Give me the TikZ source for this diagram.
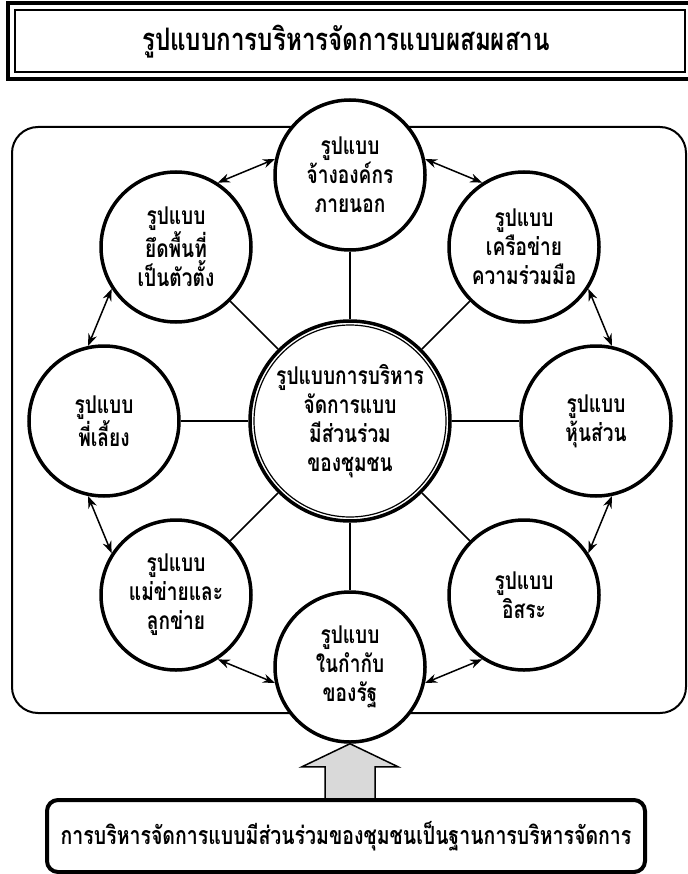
\documentclass[tikz,border=0pt]{standalone}
\usepackage{fontspec}
\setmainfont[Script=Thai, FakeStretch=0.78]{Loma}
\usetikzlibrary{arrows.meta}
\tikzset{
  model/.style={circle, draw, line width=3.5pt, fill=white, minimum size=150pt, inner sep=0pt,
    align=center, font=\bfseries\fontsize{24.5}{29}\selectfont},
  hub/.style={model, minimum size=200pt},
  spoke/.style={line width=1.6pt},
  link/.style={{Stealth[length=12pt,width=9pt]}-{Stealth[length=12pt,width=9pt]}, line width=1.5pt}
}
\begin{document}
\begin{tikzpicture}[x=1pt,y=-1pt]
\useasboundingbox (0,0) rectangle (687,874);
% title
\draw[line width=4pt] (8,3) rectangle (700,79);
\draw[line width=1.5pt] (15,10) rectangle (685,72);
\node[font=\bfseries\fontsize{31}{36}\selectfont] (title) at (346,42) {รูปแบบการบริหารจัดการแบบผสมผสาน};
% frame
\draw[line width=2pt, rounded corners=26pt] (12,127) rectangle (686,713);

\node[hub] (cc) at (350,421) {รูปแบบการบริหาร\\จัดการแบบ\\มีส่วนร่วม\\ของชุมชน};
\draw[line width=1.2pt] (cc.center) circle (96);

\node[model] (cT)  at (350,175) {รูปแบบ\\จ้างองค์กร\\ภายนอก};
\node[model] (cTR) at (524,247) {รูปแบบ\\เครือข่าย\\ความร่วมมือ};
\node[model] (cR)  at (596,421) {รูปแบบ\\หุ้นส่วน};
\node[model] (cBR) at (524,595) {รูปแบบ\\อิสระ};
\node[model] (cB)  at (350,667) {รูปแบบ\\ในกำกับ\\ของรัฐ};
\node[model] (cBL) at (176,595) {รูปแบบ\\แม่ข่ายและ\\ลูกข่าย};
\node[model] (cL)  at (104,421) {รูปแบบ\\พี่เลี้ยง};
\node[model] (cTL) at (176,247) {รูปแบบ\\ยึดพื้นที่\\เป็นตัวตั้ง};

\path[spoke]
    (cc) edge (cT)
    (cc) edge (cTR)
    (cc) edge (cR)
    (cc) edge (cBR)
    (cc) edge (cB)
    (cc) edge (cBL)
    (cc) edge (cL)
    (cc) edge (cTL);

\path[link]
    (cT.12)    edge (cTR.123)
    (cTR.-33)  edge (cR.78)
    (cR.-78)   edge (cBR.33)
    (cBR.-123) edge (cB.-12)
    (cB.192)   edge (cBL.-57)
    (cBL.147)  edge (cL.-102)
    (cL.102)   edge (cTL.-147)
    (cTL.57)   edge (cT.168);

% arrow into the model
\draw[line width=1.5pt, fill=black!15] (cB.south) -- ++(48,23) -- ++(-23,0) -- ++(0,32)
    -- ++(-50,0) -- ++(0,-32) -- ++(-23,0) -- cycle;

\node[draw, line width=4pt, rounded corners=11pt, minimum width=598pt, minimum height=72pt,
    font=\bfseries\fontsize{25}{29}\selectfont] (base) at (346,836)
    {การบริหารจัดการแบบมีส่วนร่วมของชุมชนเป็นฐานการบริหารจัดการ};
\end{tikzpicture}
\end{document}
